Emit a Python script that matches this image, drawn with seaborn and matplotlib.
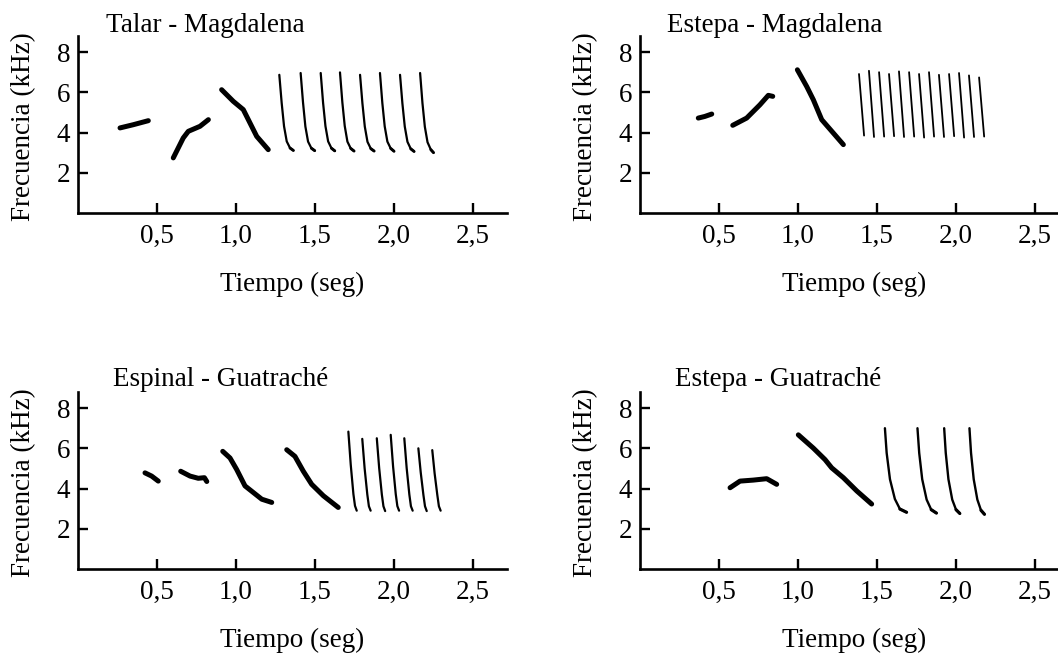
import matplotlib
matplotlib.use("Agg")
import matplotlib.pyplot as plt
import seaborn as sns
import numpy as np

# ---------------- data (time in s, frequency in kHz) ----------------
titles = ["Talar - Magdalena", "Estepa - Magdalena",
          "Espinal - Guatraché", "Estepa - Guatraché"]
x_ticks = [0.5, 1.0, 1.5, 2.0, 2.5]
x_ticklabels = ["0,5", "1,0", "1,5", "2,0", "2,5"]
y_ticks = [2, 4, 6, 8]
y_ticklabels = ["2", "4", "6", "8"]
x_label = "Tiempo (seg)"
y_label = "Frecuencia (kHz)"

# Panel 1: Talar - Magdalena
talar_syl_t = [[0.266, 0.350, 0.445],
               [0.603, 0.666, 0.698, 0.772, 0.825],
               [0.909, 0.983, 1.046, 1.078, 1.131, 1.204]]
talar_syl_f = [[4.23, 4.39, 4.59],
               [2.74, 3.73, 4.06, 4.31, 4.64],
               [6.13, 5.55, 5.14, 4.64, 3.81, 3.15]]
talar_trill_t = [[1.274, 1.289, 1.304, 1.321, 1.342, 1.363],
                 [1.409, 1.424, 1.439, 1.456, 1.477, 1.498],
                 [1.536, 1.551, 1.566, 1.583, 1.604, 1.625],
                 [1.658, 1.673, 1.688, 1.705, 1.726, 1.747],
                 [1.785, 1.800, 1.815, 1.832, 1.853, 1.874],
                 [1.911, 1.926, 1.941, 1.958, 1.979, 2.000],
                 [2.038, 2.053, 2.068, 2.085, 2.106, 2.127],
                 [2.165, 2.180, 2.195, 2.212, 2.233, 2.250]]
talar_trill_f = [[6.87, 5.47, 4.31, 3.56, 3.23, 3.11],
                 [6.96, 5.50, 4.30, 3.55, 3.22, 3.10],
                 [6.96, 5.48, 4.32, 3.56, 3.22, 3.09],
                 [6.99, 5.50, 4.33, 3.55, 3.21, 3.08],
                 [6.87, 5.45, 4.30, 3.54, 3.20, 3.08],
                 [6.96, 5.47, 4.31, 3.55, 3.21, 3.07],
                 [6.87, 5.45, 4.30, 3.54, 3.19, 3.06],
                 [6.96, 5.46, 4.29, 3.52, 3.15, 3.00]]

# Panel 2: Estepa - Magdalena
estepa_m_syl_t = [[0.369, 0.410, 0.454],
                  [0.587, 0.675, 0.759, 0.812, 0.840],
                  [0.996, 1.055, 1.097, 1.150, 1.223, 1.287]]
estepa_m_syl_f = [[4.72, 4.80, 4.92],
                  [4.36, 4.72, 5.38, 5.85, 5.80],
                  [7.12, 6.29, 5.63, 4.64, 3.98, 3.40]]
estepa_m_trill_t = [[1.386, 1.418], [1.449, 1.481], [1.513, 1.545],
                    [1.576, 1.608], [1.639, 1.671], [1.703, 1.735],
                    [1.766, 1.798], [1.829, 1.861], [1.892, 1.924],
                    [1.956, 1.988], [2.019, 2.051], [2.082, 2.114],
                    [2.146, 2.178]]
estepa_m_trill_f = [[6.91, 3.85], [7.07, 3.78], [7.00, 3.80],
                    [6.91, 3.82], [7.04, 3.78], [7.00, 3.80],
                    [6.91, 3.75], [7.00, 3.80], [6.87, 3.78],
                    [6.91, 3.82], [6.96, 3.75], [6.84, 3.78],
                    [6.74, 3.80]]

# Panel 3: Espinal - Guatraché
espinal_syl_t = [[0.424, 0.466, 0.508],
                 [0.650, 0.709, 0.761, 0.800, 0.815],
                 [0.916, 0.962, 1.004, 1.057, 1.110, 1.163, 1.226],
                 [1.321, 1.373, 1.426, 1.479, 1.553, 1.647]]
espinal_syl_f = [[4.78, 4.62, 4.37],
                 [4.86, 4.62, 4.51, 4.54, 4.35],
                 [5.85, 5.52, 4.95, 4.13, 3.80, 3.47, 3.31],
                 [5.93, 5.60, 4.86, 4.21, 3.64, 3.06]]
espinal_trill_t = [[1.711, 1.726, 1.743, 1.753, 1.764],
                   [1.799, 1.814, 1.831, 1.841, 1.852],
                   [1.891, 1.906, 1.923, 1.933, 1.944],
                   [1.979, 1.994, 2.011, 2.021, 2.032],
                   [2.065, 2.080, 2.097, 2.107, 2.118],
                   [2.154, 2.169, 2.186, 2.196, 2.207],
                   [2.242, 2.257, 2.274, 2.284, 2.295]]
espinal_trill_f = [[6.83, 5.19, 3.72, 3.14, 2.90],
                   [6.47, 5.00, 3.70, 3.12, 2.90],
                   [6.50, 5.02, 3.70, 3.12, 2.88],
                   [6.67, 5.10, 3.72, 3.13, 2.90],
                   [6.50, 5.02, 3.70, 3.12, 2.90],
                   [6.00, 4.80, 3.68, 3.12, 2.88],
                   [5.91, 4.75, 3.68, 3.12, 2.90]]

# Panel 4: Estepa - Guatraché
estepa_g_syl_t = [[0.570, 0.633, 0.717, 0.802, 0.865],
                  [1.002, 1.097, 1.171, 1.213, 1.287, 1.372, 1.466]]
estepa_g_syl_f = [[4.04, 4.37, 4.42, 4.49, 4.21],
                  [6.67, 6.01, 5.44, 5.03, 4.54, 3.88, 3.23]]
estepa_g_trill_t = [[1.550, 1.561, 1.582, 1.613, 1.645, 1.687],
                    [1.756, 1.767, 1.786, 1.814, 1.843, 1.876],
                    [1.925, 1.935, 1.952, 1.976, 2.000, 2.024],
                    [2.085, 2.095, 2.112, 2.135, 2.158, 2.180]]
estepa_g_trill_f = [[7.00, 5.77, 4.46, 3.48, 2.98, 2.82],
                    [7.00, 5.77, 4.46, 3.45, 2.95, 2.78],
                    [7.00, 5.77, 4.46, 3.45, 2.95, 2.76],
                    [7.00, 5.77, 4.46, 3.45, 2.92, 2.72]]

panels = [
    (talar_syl_t, talar_syl_f, talar_trill_t, talar_trill_f, 1.6, 2.1),
    (estepa_m_syl_t, estepa_m_syl_f, estepa_m_trill_t, estepa_m_trill_f, 1.3, None),
    (espinal_syl_t, espinal_syl_f, espinal_trill_t, espinal_trill_f, 1.6, None),
    (estepa_g_syl_t, estepa_g_syl_f, estepa_g_trill_t, estepa_g_trill_f, 1.7, 2.3),
]

# ---------------- style ----------------
sns.set_style("ticks")
plt.rcParams['font.family'] = ['Liberation Serif', 'DejaVu Serif']
for k in ("text.color", "axes.labelcolor", "xtick.color", "ytick.color",
          "axes.edgecolor"):
    plt.rcParams[k] = "black"
FS = 19.5

W, H = 1058, 653
fig = plt.figure(figsize=(W / 100, H / 100), dpi=100)
rects = [(78, 440), (640, 440), (78, 84), (640, 84)]
title_pos = [(0.065, 1.023), (0.063, 1.023), (0.082, 1.034), (0.082, 1.034)]
kw = dict(estimator=None, sort=False, solid_capstyle="round",
          solid_joinstyle="round", color="black")

for i, (st, sf, tt, tf, tlw, hook_lw) in enumerate(panels):
    lx, by = rects[i]
    ax = fig.add_axes([lx / W, by / H, 429 / W, 177 / H])
    for t, f in zip(st, sf):
        sns.lineplot(x=t, y=f, ax=ax, lw=3.6, **kw)
    for t, f in zip(tt, tf):
        sns.lineplot(x=t, y=f, ax=ax, lw=tlw, **kw)
        if hook_lw is not None:
            sns.lineplot(x=t[-2:], y=f[-2:], ax=ax, lw=hook_lw, **kw)
    ax.set_xlim(0, 2.715)
    ax.set_ylim(0, 8.8)
    ax.set_xticks(x_ticks)
    ax.set_xticklabels(x_ticklabels, fontsize=FS)
    ax.set_yticks(y_ticks)
    ax.set_yticklabels(y_ticklabels, fontsize=FS)
    ax.tick_params(direction="in", length=7.5, width=1.7, color="black",
                   labelcolor="black")
    ax.tick_params(axis="x", pad=7.5)
    ax.tick_params(axis="y", pad=5.5)
    sns.despine(ax=ax)
    for s in ("left", "bottom"):
        ax.spines[s].set_linewidth(1.9)
        ax.spines[s].set_color("black")
    ax.set_xlabel(x_label, fontsize=FS, color="black")
    ax.set_ylabel(y_label, fontsize=FS, color="black")
    ax.xaxis.set_label_coords(0.5, -0.33)
    ax.yaxis.set_label_coords(-0.097, 0.49)
    ax.set_facecolor("white")
    ax.text(title_pos[i][0], title_pos[i][1], titles[i], transform=ax.transAxes,
            fontsize=FS, ha="left", va="baseline", color="black")

fig.savefig("out.png", dpi=100, facecolor="white")
